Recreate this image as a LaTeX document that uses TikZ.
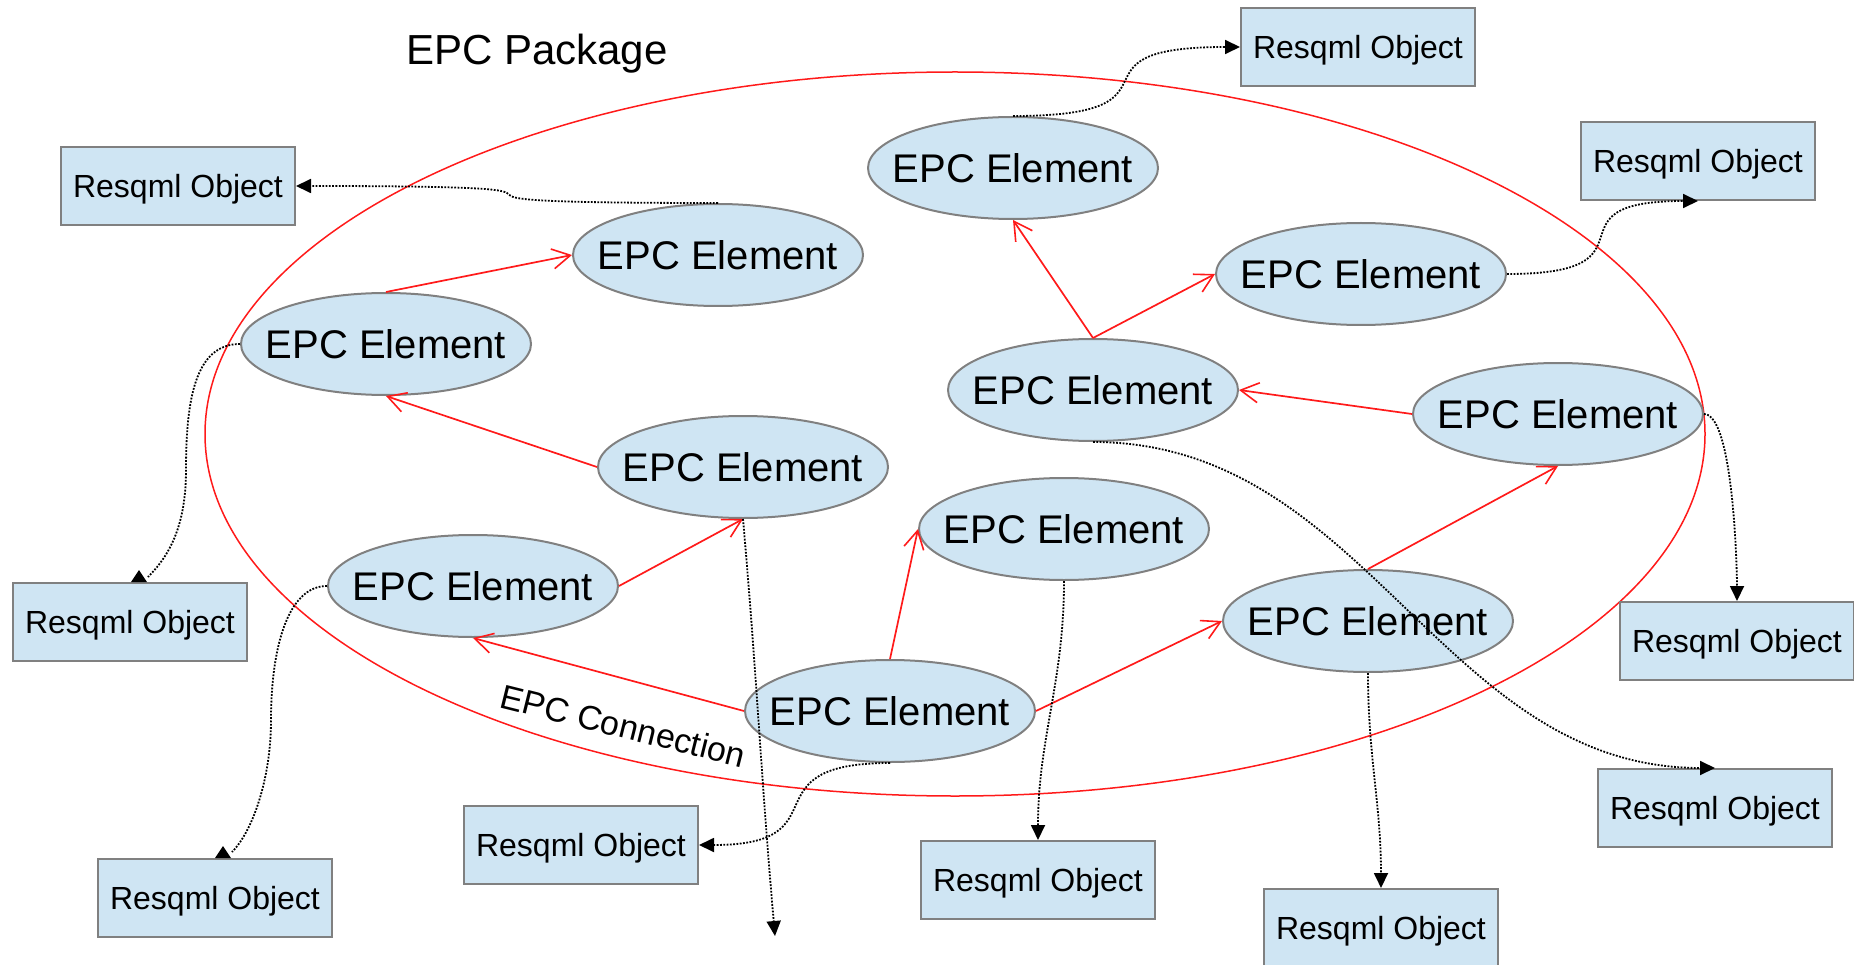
\documentclass[tikz,border=0pt]{standalone}
\usepackage{fontspec}
\setmainfont{Liberation Sans}
\usetikzlibrary{arrows.meta,shapes.geometric}
\definecolor{fillblue}{HTML}{CFE5F3}
\definecolor{edgegray}{HTML}{808080}
\definecolor{pkgred}{HTML}{FF1A1A}
\begin{document}
\begin{tikzpicture}[x=1pt,y=-1pt,
  elem/.style={ellipse, draw=edgegray, line width=2pt, fill=fillblue,
    minimum width=290pt, minimum height=102pt, inner sep=0pt,
    font=\fontsize{40}{48}\selectfont, text height=29pt, text depth=0pt},
  obj/.style={rectangle, draw=edgegray, line width=2pt, fill=fillblue,
    minimum width=234pt, minimum height=78pt, inner sep=0pt,
    font=\fontsize{32}{38}\selectfont, text height=23pt, text depth=0pt},
  rel/.style={draw=pkgred, line width=1.7pt,
    -{Straight Barb[length=18pt,width=20pt,line width=1.6pt]}},
  refline/.style={draw=black, line width=1.8pt, dash pattern=on 1.8pt off 1.5pt},
  ref/.style={refline, -{Triangle[length=15pt,width=14pt]}},
  tipmark/.style={fill=black},
  pkg/.style={draw=pkgred, line width=1.5pt},
  titletext/.style={inner sep=0pt, font=\fontsize{42}{50}\selectfont},
  conntext/.style={inner sep=0pt, font=\fontsize{34}{40}\selectfont}
]
\useasboundingbox (0,0) rectangle (1854,965);

% package boundary
\draw[pkg] (955,434) ellipse [x radius=750pt, y radius=362pt];

% labels
\node[titletext, anchor=base] (title) at (537,65) {EPC Package};
\node[conntext, anchor=base west, rotate=-14] (conn) at (498,707) {EPC Connection};

% EPC elements
\node[elem] (e1) at (1013,168) {\makebox[0pt]{EPC Element}};
\node[elem] (e2) at (718,255) {\makebox[0pt]{EPC Element}};
\node[elem] (e3) at (386,344) {\makebox[0pt]{EPC Element}};
\node[elem] (e4) at (1361,274) {\makebox[0pt]{EPC Element}};
\node[elem] (e5) at (1093,390) {\makebox[0pt]{EPC Element}};
\node[elem] (e6) at (1558,414) {\makebox[0pt]{EPC Element}};
\node[elem] (e7) at (743,467) {\makebox[0pt]{EPC Element}};
\node[elem] (e8) at (1064,529) {\makebox[0pt]{EPC Element}};
\node[elem] (e9) at (473,586) {\makebox[0pt]{EPC Element}};
\node[elem] (e10) at (1368,621) {\makebox[0pt]{EPC Element}};
\node[elem] (e11) at (890,711) {\makebox[0pt]{EPC Element}};

% Resqml objects
\node[obj] (r1) at (1358,47) {Resqml Object};
\node[obj] (r2) at (178,186) {Resqml Object};
\node[obj] (r3) at (1698,161) {Resqml Object};
\node[obj] (r4) at (130,622) {Resqml Object};
\node[obj] (r5) at (1737,641) {Resqml Object};
\node[obj] (r6) at (1715,808) {Resqml Object};
\node[obj] (r7) at (581,845) {Resqml Object};
\node[obj] (r8) at (1038,880) {Resqml Object};
\node[obj] (r9) at (215,898) {Resqml Object};
\node[obj] (r10) at (1381,928) {Resqml Object};
\coordinate (end7) at (775,936);

% EPC connections
\draw[rel] (e3.north) -- (e2.west);
\draw[rel] (e7.west) -- (e3.south);
\draw[rel] (e9.east) -- (e7.south);
\draw[rel] (e11.west) -- (e9.south);
\draw[rel] (e11.north) -- (e8.west);
\draw[rel] (e11.east) -- (e10.west);
\draw[rel] (e10.north) -- (e6.south);
\draw[rel] (e6.west) -- (e5.east);
\draw[rel] (e5.north) -- (e1.south);
\draw[rel] (e5.north) -- (e4.west);

% references to Resqml objects
\draw[ref] (e1.north) to[out=0,in=180,looseness=2] (r1.west);
\draw[ref] (e2.north) to[out=180,in=0,looseness=2.4] (r2.east);
\draw[ref] (e4.east) to[out=0,in=180,looseness=2] (r3.south);
\draw[ref] (e6.east) to[out=0,in=90,looseness=0.4] (r5.north);
\draw[ref] (e5.south) to[out=0,in=180] (r6.north);
\draw[ref] (e7.south) to[out=-85,in=95] (end7);
\draw[ref] (e11.south) to[out=180,in=0,looseness=1.8] (r7.east);
\draw[ref] (e8.south) to[out=-90,in=90] (r8.north);
\draw[ref] (e10.south) to[out=-90,in=90] (r10.north);

% the two references whose heads point upwards
\draw[refline] (e3.west) .. controls +(-45,0) and +(0,-70) .. (186,470)
  .. controls +(0,55) and +(22,-22) .. ([xshift=18pt,yshift=5pt]r4.north);
\fill[tipmark] ([xshift=1pt]r4.north) -- ([xshift=17pt]r4.north)
  -- ([xshift=9pt,yshift=12pt]r4.north) -- cycle;
\draw[refline] (e9.west) .. controls +(-40,0) and +(0,-70) .. (271,720)
  .. controls +(0,60) and +(20,-20) .. ([xshift=17pt,yshift=6pt]r9.north);
\fill[tipmark] ([xshift=0pt]r9.north) -- ([xshift=16pt]r9.north)
  -- ([xshift=8pt,yshift=12pt]r9.north) -- cycle;
\end{tikzpicture}
\end{document}
